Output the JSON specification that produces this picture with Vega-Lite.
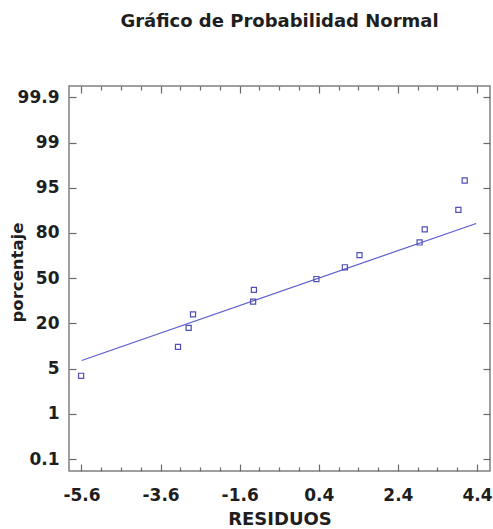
{
  "$schema": "https://vega.github.io/schema/vega-lite/v6.json",
  "width": 421,
  "height": 385,
  "autosize": {"type": "none"},
  "padding": {"left": 69, "top": 86, "right": 3, "bottom": 58},
  "background": "white",
  "title": {
    "text": "Gráfico de Probabilidad Normal",
    "font": "DejaVu Sans",
    "fontSize": 18,
    "fontWeight": "bold",
    "color": "#1e1e1e",
    "anchor": "middle",
    "offset": 54
  },
  "config": {
    "view": {"stroke": "#808080", "strokeWidth": 1.5},
    "axis": {
      "grid": false,
      "domain": false,
      "tickColor": "#6a6a6a",
      "tickWidth": 1.2,
      "labelFont": "DejaVu Sans",
      "labelFontSize": 17,
      "labelFontWeight": "bold",
      "labelColor": "#1e1e1e",
      "titleFont": "DejaVu Sans",
      "titleFontSize": 18,
      "titleFontWeight": "bold",
      "titleColor": "#1e1e1e"
    }
  },
  "datasets": {
    "pts": [
      {"residuo": -5.61, "p": 1.84},
      {"residuo": -3.16, "p": 2.48},
      {"residuo": -2.89, "p": 2.9},
      {"residuo": -2.78, "p": 3.2},
      {"residuo": -1.26, "p": 3.48},
      {"residuo": -1.24, "p": 3.74},
      {"residuo": 0.34, "p": 3.98},
      {"residuo": 1.06, "p": 4.24},
      {"residuo": 1.43, "p": 4.51},
      {"residuo": 2.95, "p": 4.79},
      {"residuo": 3.08, "p": 5.08},
      {"residuo": 3.93, "p": 5.51},
      {"residuo": 4.09, "p": 6.16}
    ],
    "fit": [
      {"residuo": -5.595, "p": 2.18},
      {"residuo": 4.38, "p": 5.21}
    ]
  },
  "layer": [
    {
      "data": {"name": "fit"},
      "mark": {"type": "line", "color": "#5c5cd0", "strokeWidth": 1.2},
      "encoding": {
        "x": {
          "field": "residuo", "type": "quantitative",
          "scale": {"domain": [-5.916, 4.73], "nice": false, "zero": false},
          "axis": {
            "orient": "bottom",
            "title": "RESIDUOS",
            "titlePadding": 7,
            "values": [-5.6, -3.6, -1.6, 0.4, 2.4, 4.4],
            "ticks": false,
            "tickSize": 0,
            "labelPadding": 16,
            "labelExpr": "'' + datum.value"
          }
        },
        "y": {
          "field": "p", "type": "quantitative",
          "scale": {"domain": [-0.265, 8.25], "nice": false, "zero": false},
          "axis": {
            "orient": "left",
            "title": "porcentaje",
            "titleFontSize": 16.5,
            "titlePadding": -8,
            "titleY": 186,
            "values": [0, 1, 2, 3, 4, 5, 6, 7, 8],
            "ticks": false,
            "tickSize": 0,
            "labelPadding": 10,
            "labelExpr": "['0.1','1','5','20','50','80','95','99','99.9'][datum.value]"
          }
        }
      }
    },
    {
      "data": {"name": "pts"},
      "mark": {"type": "point", "shape": "square", "filled": false, "color": "#4f4fb8", "size": 26, "strokeWidth": 1.2, "opacity": 1},
      "encoding": {
        "x": {
          "field": "residuo", "type": "quantitative",
          "axis": {
            "orient": "top", "title": null, "labels": false,
            "values": [-5.6, -3.6, -1.6, 0.4, 2.4, 4.4],
            "tickSize": 7, "offset": -7
          }
        },
        "y": {
          "field": "p", "type": "quantitative",
          "axis": {
            "orient": "right", "title": null, "labels": false,
            "values": [0, 1, 2, 3, 4, 5, 6, 7, 8],
            "tickSize": 7, "offset": -7
          }
        }
      }
    },
    {
      "data": {"name": "pts"},
      "mark": {"type": "point", "opacity": 0},
      "encoding": {
        "x": {
          "field": "residuo", "type": "quantitative",
          "axis": {
            "orient": "bottom", "title": null, "labels": false,
            "values": [-5.6, -3.6, -1.6, 0.4, 2.4, 4.4],
            "tickSize": 7, "offset": -7
          }
        },
        "y": {
          "field": "p", "type": "quantitative",
          "axis": {
            "orient": "left", "title": null, "labels": false,
            "values": [0, 1, 2, 3, 4, 5, 6, 7, 8],
            "tickSize": 7, "offset": -7
          }
        }
      }
    },
    {
      "data": {"name": "pts"},
      "mark": {"type": "point", "opacity": 0},
      "encoding": {
        "x": {
          "field": "residuo", "type": "quantitative",
          "axis": {
            "orient": "bottom", "title": null, "labels": false,
            "values": [-5.1, -4.6, -4.1, -3.1, -2.6, -2.1, -1.1, -0.6, -0.1, 0.9, 1.4, 1.9, 2.9, 3.4, 3.9],
            "tickSize": 4, "offset": -4
          }
        },
        "y": {"field": "p", "type": "quantitative", "axis": null}
      }
    },
    {
      "data": {"name": "pts"},
      "mark": {"type": "point", "opacity": 0},
      "encoding": {
        "x": {
          "field": "residuo", "type": "quantitative",
          "axis": {
            "orient": "top", "title": null, "labels": false,
            "values": [-5.1, -4.6, -4.1, -3.1, -2.6, -2.1, -1.1, -0.6, -0.1, 0.9, 1.4, 1.9, 2.9, 3.4, 3.9],
            "tickSize": 4, "offset": -4
          }
        },
        "y": {"field": "p", "type": "quantitative", "axis": null}
      }
    }
  ],
  "resolve": {"axis": {"x": "independent", "y": "independent"}}
}
